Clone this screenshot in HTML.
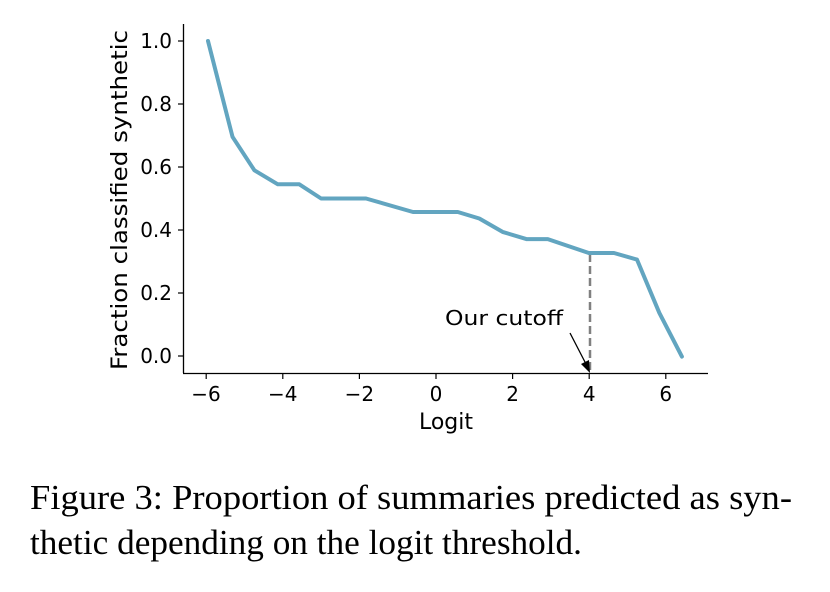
<!DOCTYPE html>
<html><head><meta charset="utf-8"><style>html,body{margin:0;padding:0;background:#fff}svg{display:block}</style></head>
<body>
<svg width="830" height="592" viewBox="0 0 830 592" xmlns="http://www.w3.org/2000/svg">
<g font-family="DejaVu Sans, Liberation Sans, sans-serif" font-size="20" fill="#000">
<line x1="183.5" y1="24" x2="183.5" y2="373" stroke="#000" stroke-width="1.3"/>
<line x1="183" y1="373.5" x2="708" y2="373.5" stroke="#000" stroke-width="1.3"/>
<g stroke="#000" stroke-width="1.2">
<line x1="178" y1="41" x2="183" y2="41"/><line x1="178" y1="104" x2="183" y2="104"/>
<line x1="178" y1="167" x2="183" y2="167"/><line x1="178" y1="230" x2="183" y2="230"/>
<line x1="178" y1="293" x2="183" y2="293"/><line x1="178" y1="356" x2="183" y2="356"/>
<line x1="206.2" y1="373" x2="206.2" y2="379"/><line x1="282.8" y1="373" x2="282.8" y2="379"/>
<line x1="359.4" y1="373" x2="359.4" y2="379"/><line x1="436" y1="373" x2="436" y2="379"/>
<line x1="512.6" y1="373" x2="512.6" y2="379"/><line x1="589.2" y1="373" x2="589.2" y2="379"/>
<line x1="665.8" y1="373" x2="665.8" y2="379"/>
</g>
<g text-anchor="end">
<text x="172" y="48">1.0</text><text x="172" y="111">0.8</text><text x="172" y="174">0.6</text>
<text x="172" y="237">0.4</text><text x="172" y="300">0.2</text><text x="172" y="363">0.0</text>
</g>
<g text-anchor="middle">
<text x="206" y="401">−6</text><text x="282.8" y="401">−4</text><text x="359.4" y="401">−2</text>
<text x="436" y="401">0</text><text x="512.6" y="401">2</text><text x="589.2" y="401">4</text>
<text x="665.8" y="401">6</text>
<text x="446" y="429" font-size="22">Logit</text>
</g>
<text transform="translate(127,370) rotate(-90)" font-size="22" textLength="340" lengthAdjust="spacingAndGlyphs">Fraction classified synthetic</text>
<line x1="590" y1="254" x2="590" y2="373" stroke="#808080" stroke-width="2.5" stroke-dasharray="8,4"/>
<text x="445" y="325" textLength="118" lengthAdjust="spacingAndGlyphs">Our cutoff</text>
<line x1="570" y1="333" x2="586" y2="364" stroke="#000" stroke-width="1.3"/>
<polygon points="590,373 581,364 589,360" fill="#000"/>
<polyline fill="none" stroke="#62a5c0" stroke-width="4" stroke-linejoin="round" stroke-linecap="round"
points="208,41 232.5,136.8 254.4,170.3 277.8,184.3 299.3,184.3 321.1,198.5 366,198.5 413,212 457.8,212 479.3,218.5 502.6,231.9 526.4,239.1 547.8,239.1 588.8,253 614,253 637,259.6 659.3,312.8 681.9,356.6"/>
</g>
<g font-family="Liberation Serif, serif" font-size="35" fill="#000">
<text x="30" y="509" textLength="762" lengthAdjust="spacingAndGlyphs">Figure 3:  Proportion of summaries predicted as syn-</text>
<text x="30" y="554" textLength="552" lengthAdjust="spacingAndGlyphs">thetic depending on the logit threshold.</text>
</g>
</svg>
</body></html>
